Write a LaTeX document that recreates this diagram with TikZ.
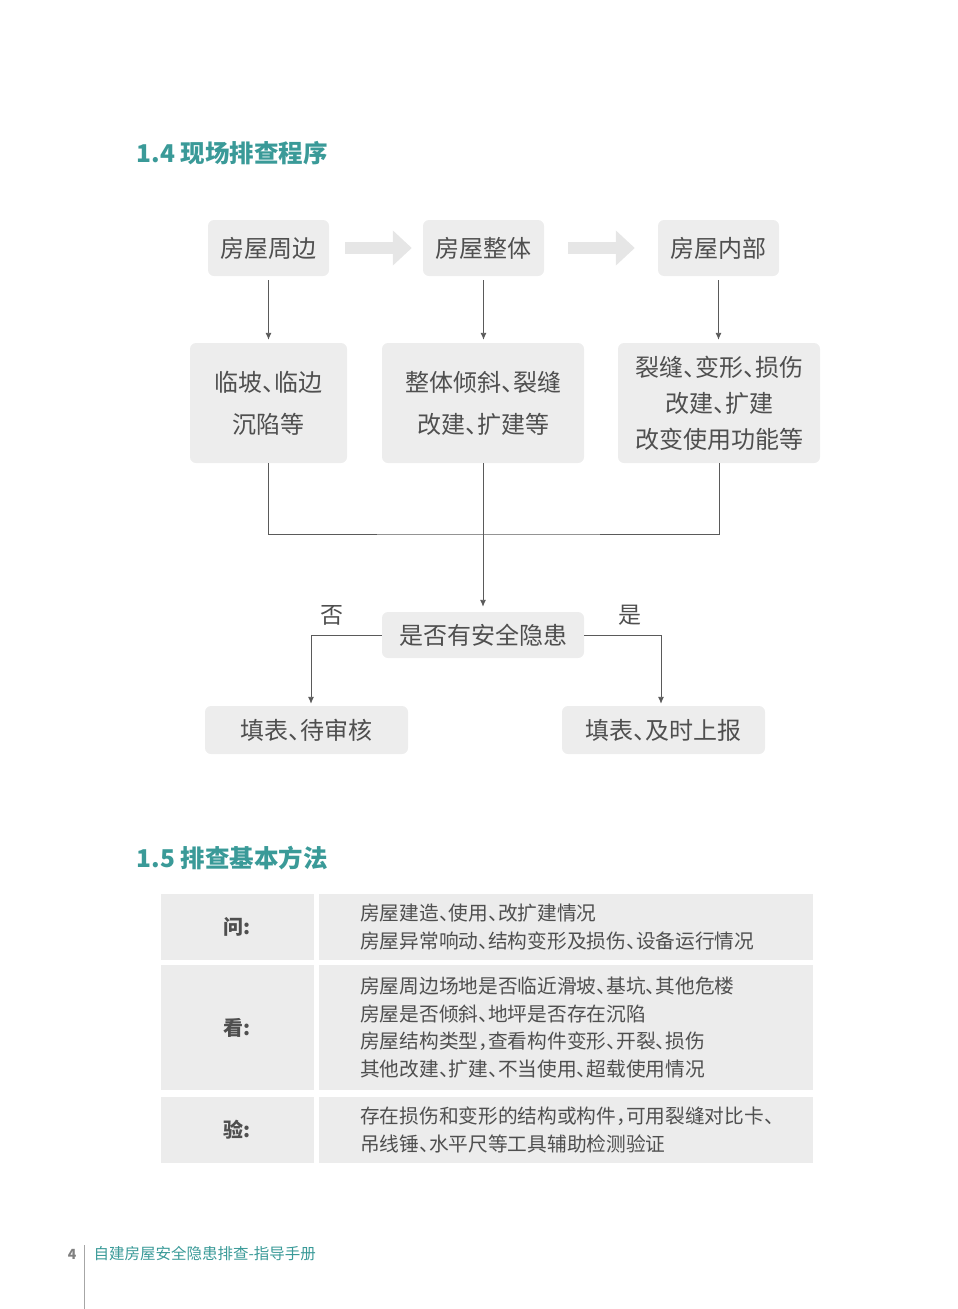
\documentclass[tikz,border=0pt]{standalone}
\usepackage{fontspec}
\setmainfont{Noto Sans CJK SC}[RawFeature=+halt]
\usetikzlibrary{positioning, arrows.meta, calc}

\definecolor{headteal}{HTML}{3A9A98}
\definecolor{boxgray}{HTML}{EDEDED}
\definecolor{cellgray}{HTML}{ECECEC}
\definecolor{bigarrowgray}{HTML}{E6E6E6}
\definecolor{textgray}{HTML}{4F4F4F}
\definecolor{linegray}{HTML}{5A5A5A}

\begin{document}
\begin{tikzpicture}[
		x=1pt, y=-1pt,
		>={Latex[length=7pt,width=6pt]},
		stepbox/.style={rectangle, rounded corners=6pt, fill=boxgray, text=textgray, inner sep=0pt, font=\fontsize{24}{28}\selectfont},
		detail/.style={stepbox, minimum height=120pt, align=center, font=\fontsize{24}{42}\selectfont},
		heading/.style={anchor=west, text=headteal, font=\fontsize{24.5}{29}\selectfont\bfseries},
		cellhead/.style={rectangle, fill=cellgray, text=textgray, inner sep=0pt, minimum width=153pt, font=\fontsize{20}{24}\selectfont\bfseries},
		cellbody/.style={rectangle, fill=cellgray, text=textgray, anchor=west, inner xsep=41pt, inner ysep=0pt, text width=412pt, align=left, font=\fontsize{19.7}{27.7}\selectfont},
		flow/.style={draw=linegray, line width=0.9pt},
		bigarr/.style={line width=12pt, draw=bigarrowgray, -{Triangle[length=19pt,width=34pt]}}
	]

	\useasboundingbox (0,0) rectangle (958,1309);

	% 1.4
	\node[heading] (title_a) at (133,153) {1.4 现场排查程序};

	\node[stepbox, minimum width=121pt, minimum height=56pt] (top1) at (268.5,248) {房屋周边};
	\node[stepbox, minimum width=121pt, minimum height=56pt] (top2) at (483.5,248) {房屋整体};
	\node[stepbox, minimum width=121pt, minimum height=56pt] (top3) at (718.5,248) {房屋内部};
	\draw[bigarr] ([xshift=16pt]top1.east) -- ([xshift=-11pt]top2.west);
	\draw[bigarr] ([xshift=24pt]top2.east) -- ([xshift=-23pt]top3.west);

	\node[detail, minimum width=157pt] (mid1) at (268.5,403) {临坡、临边\\沉陷等};
	\node[detail, minimum width=202pt] (mid2) at (483,403) {整体倾斜、裂缝\\改建、扩建等};
	\node[detail, minimum width=202pt, font=\fontsize{24}{36}\selectfont] (mid3) at (719,403) {裂缝、变形、损伤\\改建、扩建\\改变使用功能等};
	\draw[flow, ->, shorten <=4pt, shorten >=3pt] (top1.south) -- (mid1.north);
	\draw[flow, ->, shorten <=4pt, shorten >=3pt] (top2.south) -- (top2.south |- mid2.north);
	\draw[flow, ->, shorten <=4pt, shorten >=3pt] (top3.south) -- (top3.south |- mid3.north);

	\node[stepbox, minimum width=202pt, minimum height=46pt] (check) at (483,635) {是否有安全隐患};
	\coordinate (merge) at (483,534);
	\draw[flow] (mid1.south) |- (merge) -| (mid3.south);
	\draw[flow, ->, shorten >=5pt] (mid2.south) -- (check.north);

	\node[stepbox, minimum width=203pt, minimum height=48pt] (no) at (306.5,730) {填表、待审核};
	\node[stepbox, minimum width=203pt, minimum height=48pt] (yes) at (663.5,730) {填表、及时上报};
	\draw[flow, ->, shorten >=2pt] (check.west) -| ([xshift=4.5pt]no.north);
	\draw[flow, ->, shorten >=2pt] (check.east) -| ([xshift=-2.5pt]yes.north);
	\node[text=textgray, font=\fontsize{23}{27}\selectfont] (no_lbl) at (332,615) {否};
	\node[text=textgray, font=\fontsize{23}{27}\selectfont] (yes_lbl) at (630,615) {是};

	% 1.5
	\node[heading] (title_b) at (133,858) {1.5 排查基本方法};

	\node[cellhead, minimum height=66pt] (ask) at (237.5,927) {问:};
	\node[cellbody, minimum height=66pt] (ask_txt) at (319,927) {房屋建造、使用、改扩建情况\\房屋异常响动、结构变形及损伤、设备运行情况};
	\node[cellhead, minimum height=125pt] (look) at (237.5,1027.5) {看:};
	\node[cellbody, minimum height=125pt] (look_txt) at (319,1027.5) {房屋周边场地是否临近滑坡、基坑、其他危楼\\房屋是否倾斜、地坪是否存在沉陷\\房屋结构类型，查看构件变形、开裂、损伤\\其他改建、扩建、不当使用、超载使用情况};
	\node[cellhead, minimum height=66pt] (test) at (237.5,1130) {验:};
	\node[cellbody, minimum height=66pt] (test_txt) at (319,1130) {存在损伤和变形的结构或构件，可用裂缝对比卡、\\吊线锤、水平尺等工具辅助检测验证};

	% footer
	\draw[draw=gray!70, line width=1pt] (84,1245) -- (84,1309);
	\node[anchor=east, text=gray, font=\fontsize{14}{17}\selectfont\bfseries] (page) at (80,1254) {4};
	\node[anchor=west, text=headteal, font=\fontsize{15.5}{18}\selectfont] (foot) at (90,1254) {自建房屋安全隐患排查-指导手册};

\end{tikzpicture}
\end{document}
